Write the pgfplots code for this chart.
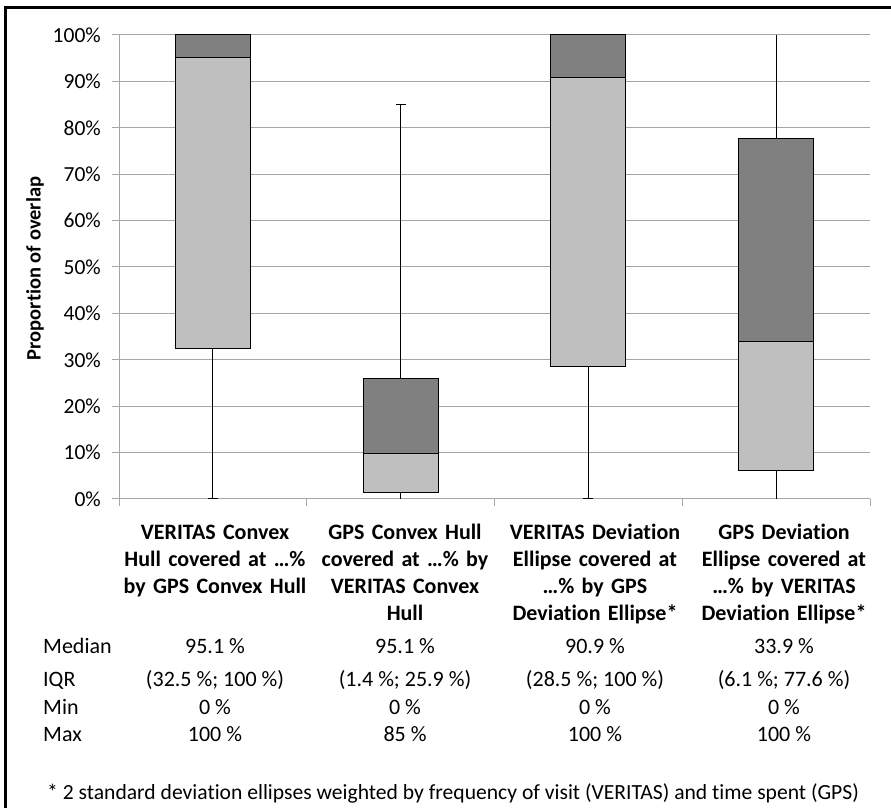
\documentclass[border=0pt]{standalone}
\usepackage{fontspec}
\setmainfont{Carlito}[Ligatures={NoCommon,TeX}]
\usepackage{pgfplots}
\usepackage{pgfplotstable}
\pgfplotsset{compat=1.18}

\definecolor{lightbox}{RGB}{191,191,191}
\definecolor{darkbox}{RGB}{128,128,128}
\definecolor{gridgray}{RGB}{166,166,166}

% box: invisible base (Q1), Q1->median, median->Q3
\pgfplotstableread{
x base lower upper
0 32.5 62.6 4.9
1 1.4 8.3 16.2
2 28.5 62.4 9.1
3 6.1 27.8 43.7
}\boxdata

% whiskers (min/max to box)
\pgfplotstableread{
x y
0 0
0 32.5
nan nan
1 25.9
1 85
nan nan
1 0
1 1.4
nan nan
2 0
2 28.5
nan nan
3 77.6
3 100
nan nan
3 0
3 6.1
}\whiskers

\pgfplotstableread{
x y
-0.027 0
0.027 0
nan nan
0.973 85
1.027 85
nan nan
1.973 0
2.027 0
}\caps

\pgfplotsset{
  common/.style={
    at={(119pt,309pt)}, anchor=south west,
    scale only axis, width=751pt, height=464pt,
    xmin=-0.5, xmax=3.5, ymin=0, ymax=100,
    clip=false,
  },
}

\begin{document}
\begin{tikzpicture}
\useasboundingbox (0,0) rectangle (891pt,808pt);

\begin{axis}[common,
  ybar stacked, bar width=75pt, bar shift=0pt,
  axis lines*=left,
  axis line style={gridgray, line width=1pt},
  tick style={gridgray, line width=1pt},
  tick align=outside, major tick length=7pt,
  xtick={-0.5,0.5,1.5,2.5,3.5}, xticklabels={},
  ytick={0,10,...,100},
  yticklabels={0\%,10\%,20\%,30\%,40\%,50\%,60\%,70\%,80\%,90\%,100\%},
  yticklabel style={font=\fontsize{21.5}{24}\selectfont, inner sep=0pt, xshift=-11pt},
  ymajorgrids, grid style={gridgray, line width=1pt},
]
\addplot[draw=none, fill=none] table[x=x, y=base] {\boxdata};
\addplot[draw=black, line width=1pt, fill=lightbox] table[x=x, y=lower] {\boxdata};
\addplot[draw=black, line width=1pt, fill=darkbox] table[x=x, y=upper] {\boxdata};
\end{axis}

\begin{axis}[common, hide axis, unbounded coords=jump]
\addplot[black, line width=1pt] table[x=x, y=y] {\whiskers};
\addplot[black, line width=1pt] table[x=x, y=y] {\caps};
\end{axis}

% y label
\node[rotate=90, font=\bfseries\fontsize{20.5}{24}\selectfont] at (35pt,539.5pt) {Proportion of overlap};

% category labels
\tikzset{cat/.style={anchor=base, text width=190pt, align=center, inner sep=0pt,
  font=\bfseries\fontsize{22}{26.7}\selectfont}}
\node[cat] at (215pt,268pt) {VERITAS Convex\\Hull covered at …\%\\by GPS Convex Hull};
\node[cat] at (405pt,268pt) {GPS Convex Hull\\covered at …\% by\\VERITAS Convex\\Hull};
\node[cat] at (595pt,268pt) {VERITAS Deviation\\Ellipse covered at\\…\% by GPS\\Deviation Ellipse*};
\node[cat] at (784pt,268pt) {GPS Deviation\\Ellipse covered at\\…\% by VERITAS\\Deviation Ellipse*};

% summary table
\tikzset{tab/.style={anchor=base, inner sep=0pt, font=\fontsize{22}{26}\selectfont},
         row/.style={anchor=base west, inner sep=0pt, font=\fontsize{22}{26}\selectfont}}
\node[row] at (43pt,154pt) {Median};
\node[row] at (43pt,121pt) {IQR};
\node[row] at (43pt,93pt) {Min};
\node[row] at (43pt,66pt) {Max};
\node[tab] at (215pt,154pt) {95.1 \%};
\node[tab] at (405pt,154pt) {95.1 \%};
\node[tab] at (595pt,154pt) {90.9 \%};
\node[tab] at (784pt,154pt) {33.9 \%};
\node[tab] at (215pt,121pt) {(32.5 \%; 100 \%)};
\node[tab] at (405pt,121pt) {(1.4 \%; 25.9 \%)};
\node[tab] at (595pt,121pt) {(28.5 \%; 100 \%)};
\node[tab] at (784pt,121pt) {(6.1 \%; 77.6 \%)};
\node[tab] at (215pt,93pt) {0 \%};
\node[tab] at (405pt,93pt) {0 \%};
\node[tab] at (595pt,93pt) {0 \%};
\node[tab] at (784pt,93pt) {0 \%};
\node[tab] at (215pt,66pt) {100 \%};
\node[tab] at (405pt,66pt) {85 \%};
\node[tab] at (595pt,66pt) {100 \%};
\node[tab] at (784pt,66pt) {100 \%};

\node[row, font=\fontsize{21.6}{26}\selectfont] at (47pt,9pt) {* 2 standard deviation ellipses weighted by frequency of visit (VERITAS) and time spent (GPS)};

% frame
\draw[line width=3pt] (5.5pt,0pt) -- (5.5pt,800.5pt) -- (891pt,800.5pt);
\end{tikzpicture}
\end{document}
